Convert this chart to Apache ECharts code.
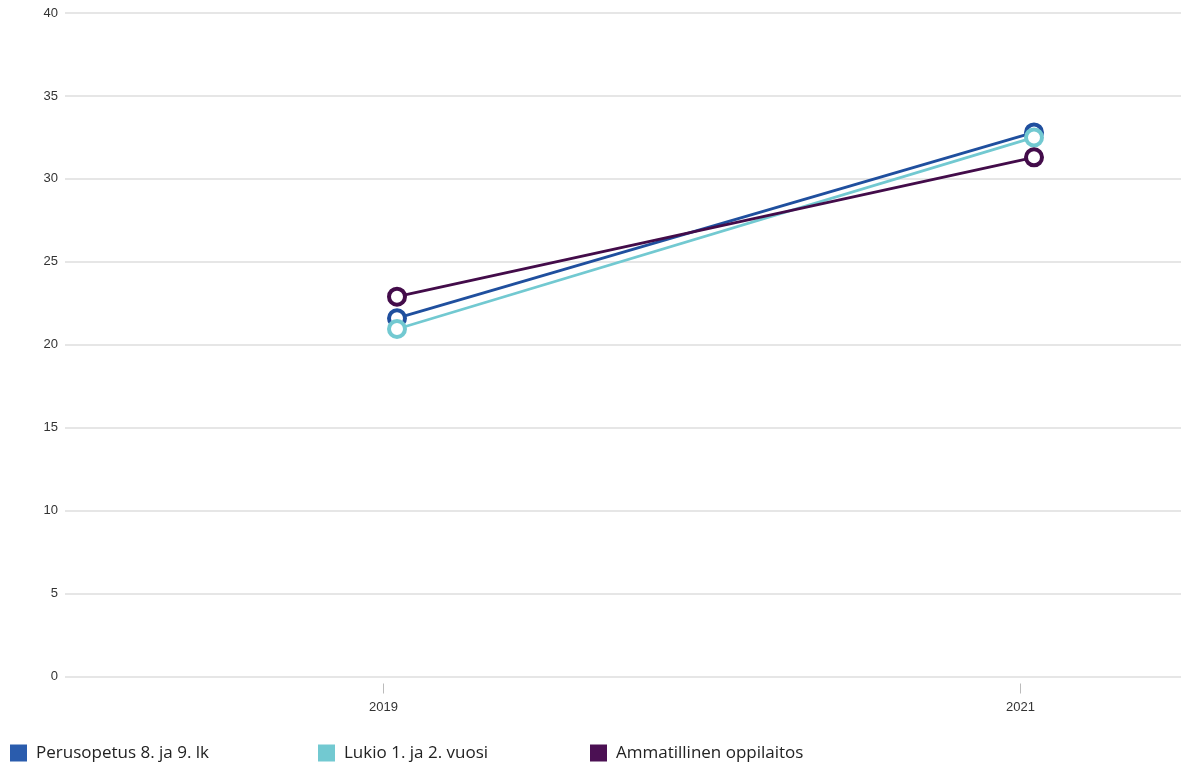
<!DOCTYPE html>
<html>
<head>
<meta charset="utf-8">
<script src="https://cdn.jsdelivr.net/npm/echarts@6/dist/echarts.min.js"></script>
<style>
html,body{margin:0;padding:0;background:#fff;}
#chart{width:1181px;height:766px;}
</style>
</head>
<body>
<div id="chart"></div>
<script>
const categories = ['2019', '2021'];
const years = [2019, 2021];
const seriesNames = ['Perusopetus 8. ja 9. lk', 'Lukio 1. ja 2. vuosi', 'Ammatillinen oppilaitos'];
const perusopetus = [21.6, 32.8];
const lukio = [20.95, 32.5];
const ammatillinen = [22.9, 31.3];
const yTicks = [0, 5, 10, 15, 20, 25, 30, 35, 40];

const colors = ['#1f4f9e', '#72c9d1', '#430c4a'];
const legendColors = ['#2a5cad', '#72c9d1', '#4b1053'];
const values = [perusopetus, lukio, ammatillinen];

const chart = echarts.init(document.getElementById('chart'));
const series = seriesNames.map((name, i) => ({
  name: name,
  type: 'line',
  xAxisIndex: 1,
  yAxisIndex: 1,
  data: years.map((y, j) => [y, values[i][j]]),
  symbol: 'circle',
  symbolSize: 16,
  showAllSymbol: true,
  lineStyle: { width: 2.8, color: colors[i] },
  itemStyle: { color: '#ffffff', borderColor: colors[i], borderWidth: 4 },
  emphasis: { disabled: true },
  animation: false
}));

const legendLefts = [10, 318, 590];
const legends = seriesNames.map((name, i) => ({
  data: [{ name: name, itemStyle: { color: legendColors[i], borderWidth: 0 } }],
  left: legendLefts[i],
  top: 744,
  padding: 0,
  itemWidth: 17,
  itemHeight: 17,
  icon: 'rect',
  textStyle: { fontFamily: 'Open Sans', fontSize: 17, color: '#222', lineHeight: 18, padding: [0, 0, 0, 4] },
  selectedMode: false
}));

chart.setOption({
  animation: false,
  color: colors,
  grid: [
    { left: 65, right: 0, top: 13, height: 663.5, containLabel: false },
    { left: 65, right: 0, top: 20, height: 663.5, containLabel: false }
  ],
  legend: legends,
  xAxis: [
    {
      type: 'value',
      gridIndex: 1,
      position: 'bottom',
      min: 2018,
      max: 2018 + 1116 / 318.5,
      axisLine: { show: false },
      axisTick: { show: true, length: 10, lineStyle: { color: '#bbb' }, customValues: years },
      axisLabel: {
        margin: 17, fontFamily: 'Liberation Sans', fontSize: 13, color: '#333',
        customValues: years,
        formatter: v => categories[years.indexOf(Math.round(v))] || ''
      },
      splitLine: { show: false }
    },
    {
      type: 'value',
      gridIndex: 0,
      position: 'bottom',
      min: 2019 - 332 / 318.5,
      max: 2019 - 332 / 318.5 + 1116 / 318.5,
      show: false,
      splitLine: { show: false }
    }
  ],
  yAxis: [
    {
      type: 'value',
      gridIndex: 1,
      show: false,
      min: 0,
      max: 40,
      splitLine: { show: false }
    },
    {
      type: 'value',
      gridIndex: 0,
      min: 0,
      max: 40,
      interval: 5,
      axisLine: { show: false },
      axisTick: { show: false },
      axisLabel: {
        margin: 7,
        fontFamily: 'Liberation Sans',
        fontSize: 13,
        color: '#333',
        formatter: v => yTicks.includes(v) ? String(v) : ''
      },
      splitLine: { lineStyle: { color: '#dedede', width: 1.5 } }
    }
  ],
  series: series
});
</script>
</body>
</html>
